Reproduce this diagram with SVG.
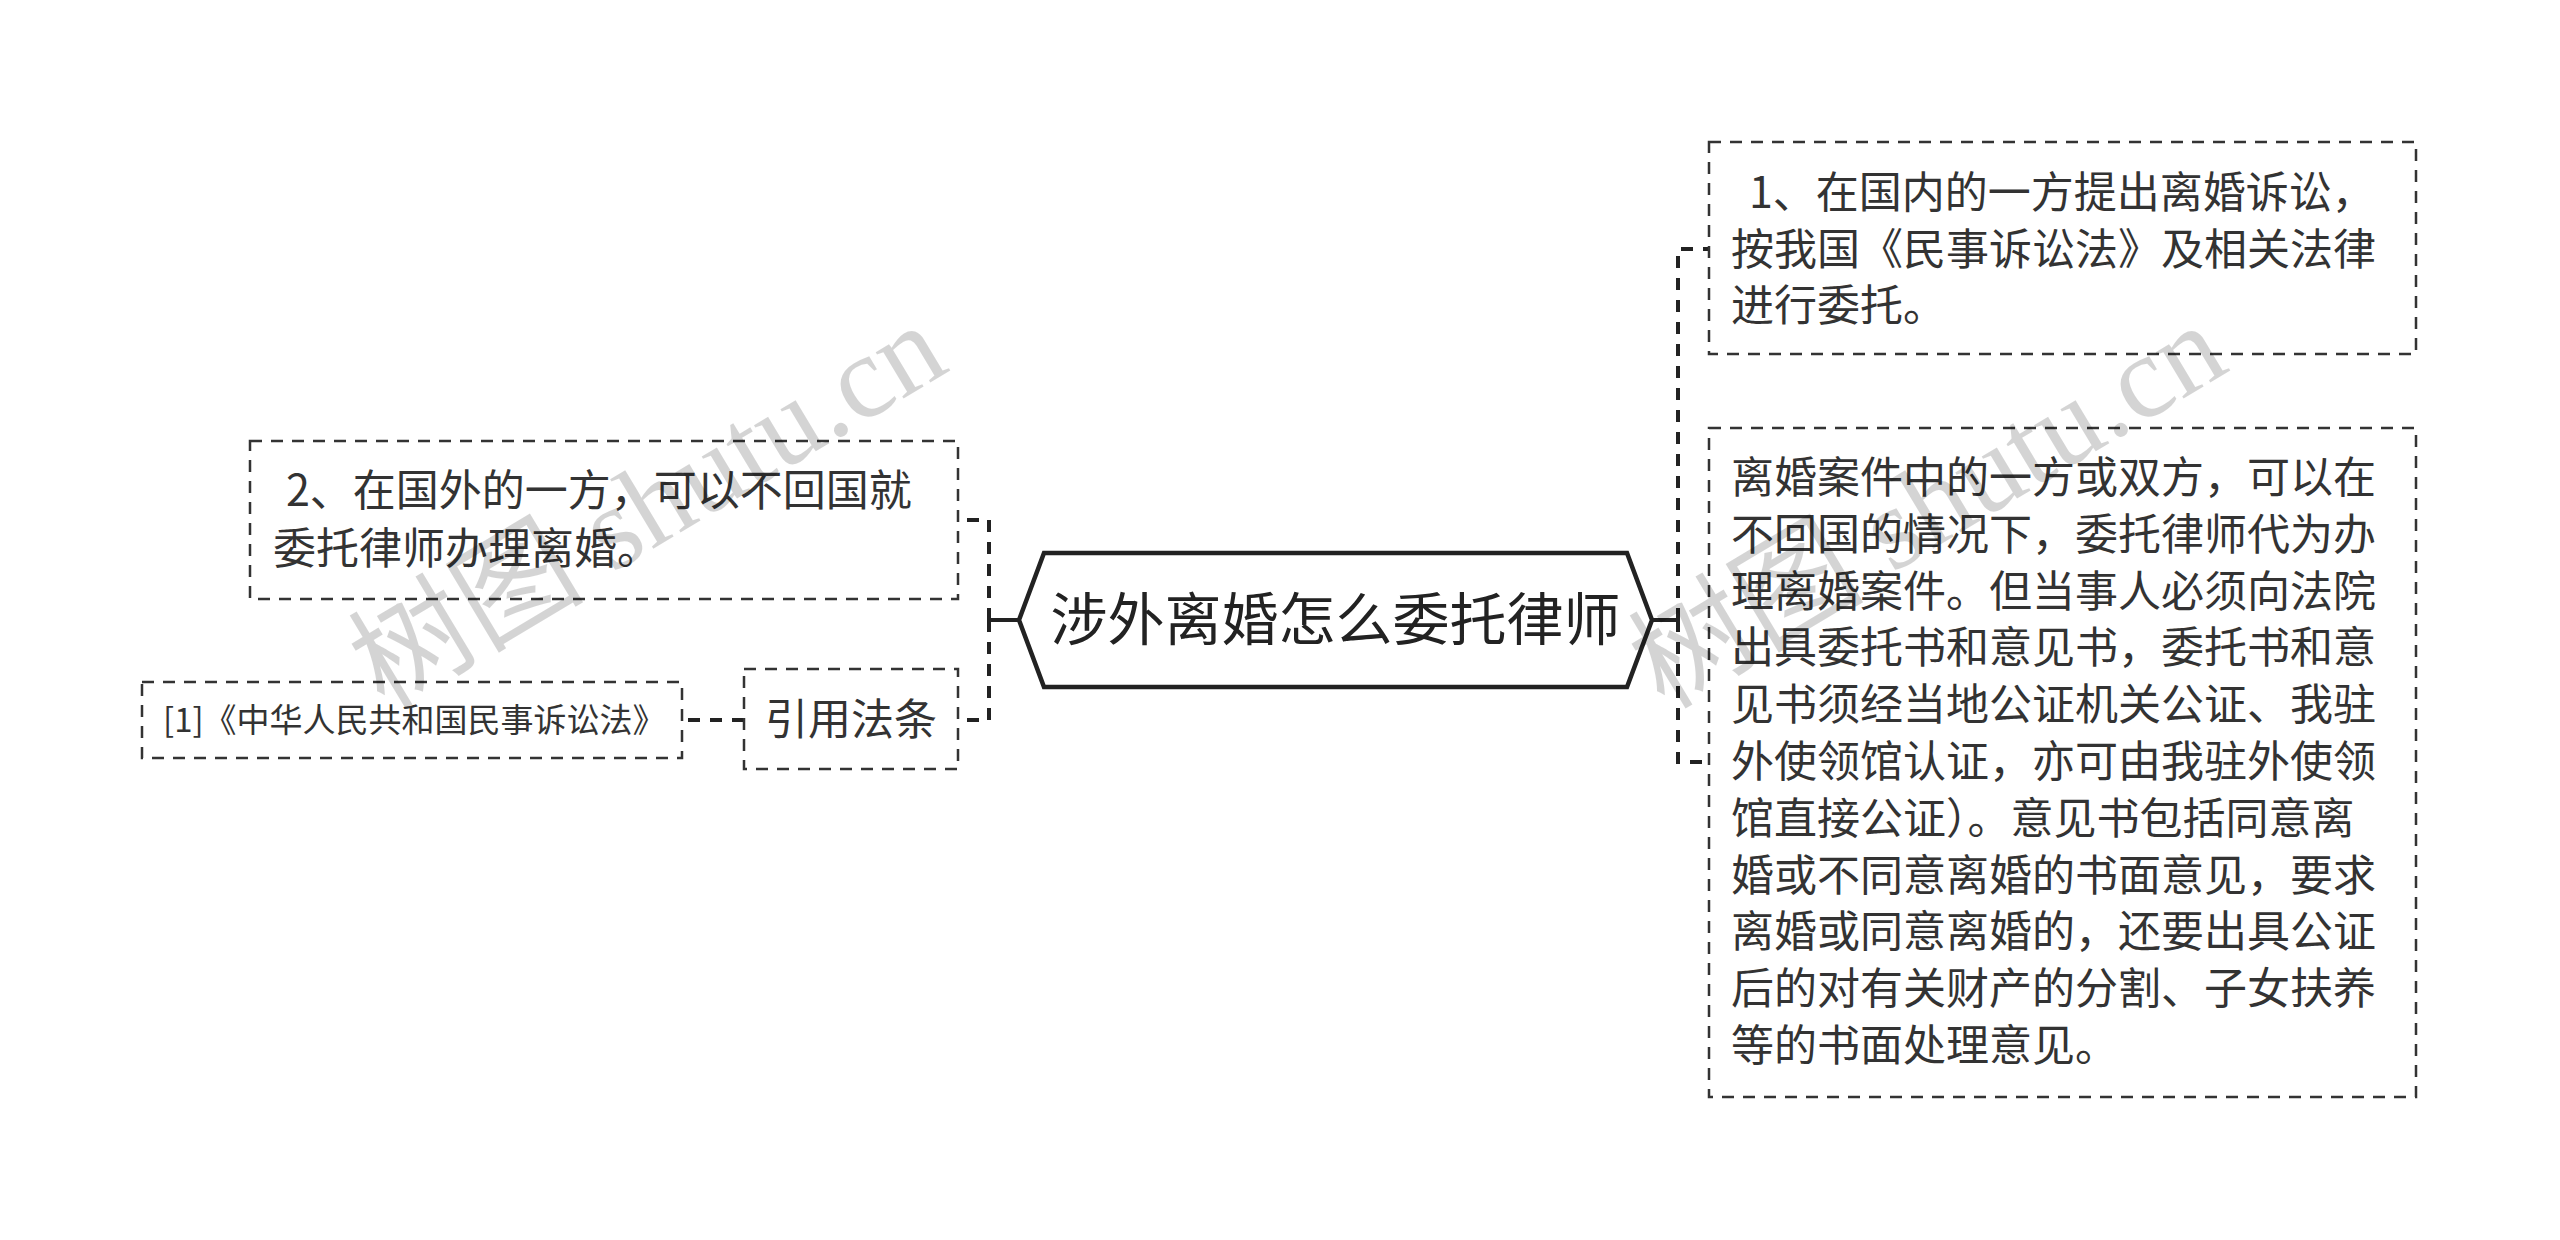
<svg xmlns="http://www.w3.org/2000/svg" width="2560" height="1240" viewBox="0 0 2560 1240">
<style>
.box{fill:none;stroke:#333;stroke-width:2.5;stroke-dasharray:12 9}
.con{fill:none;stroke:#222;stroke-width:4;stroke-dasharray:12 10}
.solid{fill:none;stroke:#222;stroke-width:4}
.t{font-family:"Noto Sans CJK SC","Noto Sans",sans-serif;fill:#333;font-size:43px}
.wm{font-family:"Liberation Serif","Noto Sans CJK SC",serif;fill:#000;fill-opacity:0.17;font-size:118px}
</style>
<rect width="2560" height="1240" fill="#fff"/>
<g id="connectors">
<path class="solid" d="M1019 620 H989"/>
<path class="con" d="M989 620 V520 H958 M989 620 V720 H958"/>
<path class="solid" d="M1652 620 H1678"/>
<path class="con" d="M1678 620 V249 H1709 M1678 620 V762 H1709"/>
<path class="con" d="M744 720 H682"/>
</g>
<g id="root">
<polygon points="1019,620 1044,553 1627,553 1652,620 1627,687 1044,687" fill="#fff" stroke="#222" stroke-width="4.5"/>
<text class="t" x="1335.5" y="640" text-anchor="middle" style="font-size:57px;fill:#222">涉外离婚怎么委托律师</text>
</g>
<g id="n1">
<rect class="box" x="1709" y="142" width="707" height="212"/>
<text class="t" x="1749" y="208">1、在国内的一方提出离婚诉讼，</text>
<text class="t" x="1731" y="265">按我国《民事诉讼法》及相关法律</text>
<text class="t" x="1731" y="321">进行委托。</text>
</g>
<g id="n2">
<rect class="box" x="1709" y="428" width="707" height="669"/>
<text class="t" x="1731" y="493">离婚案件中的一方或双方，可以在</text>
<text class="t" x="1731" y="550">不回国的情况下，委托律师代为办</text>
<text class="t" x="1731" y="607">理离婚案件。但当事人必须向法院</text>
<text class="t" x="1731" y="663">出具委托书和意见书，委托书和意</text>
<text class="t" x="1731" y="720">见书须经当地公证机关公证、我驻</text>
<text class="t" x="1731" y="777">外使领馆认证，亦可由我驻外使领</text>
<text class="t" x="1731" y="834">馆直接公证）。意见书包括同意离</text>
<text class="t" x="1731" y="891">婚或不同意离婚的书面意见，要求</text>
<text class="t" x="1731" y="947">离婚或同意离婚的，还要出具公证</text>
<text class="t" x="1731" y="1004">后的对有关财产的分割、子女扶养</text>
<text class="t" x="1731" y="1061">等的书面处理意见。</text>
</g>
<g id="n3">
<rect class="box" x="250" y="441" width="708" height="158"/>
<text class="t" x="286" y="506">2、在国外的一方，可以不回国就</text>
<text class="t" x="273" y="564">委托律师办理离婚。</text>
</g>
<g id="n4">
<rect class="box" x="744" y="669" width="214" height="100"/>
<text class="t" x="851" y="735" text-anchor="middle">引用法条</text>
</g>
<g id="n5">
<rect class="box" x="142" y="682" width="540" height="76"/>
<text class="t" x="163" y="732" style="font-size:33px">[1]《中华人民共和国民事诉讼法》</text>
</g>
<g id="watermarks">
<text class="wm" x="650" y="545" text-anchor="middle" transform="rotate(-31 650 510)">树图 shutu.cn</text>
<text class="wm" x="1930" y="545" text-anchor="middle" transform="rotate(-31 1930 510)">树图 shutu.cn</text>
</g>
</svg>
